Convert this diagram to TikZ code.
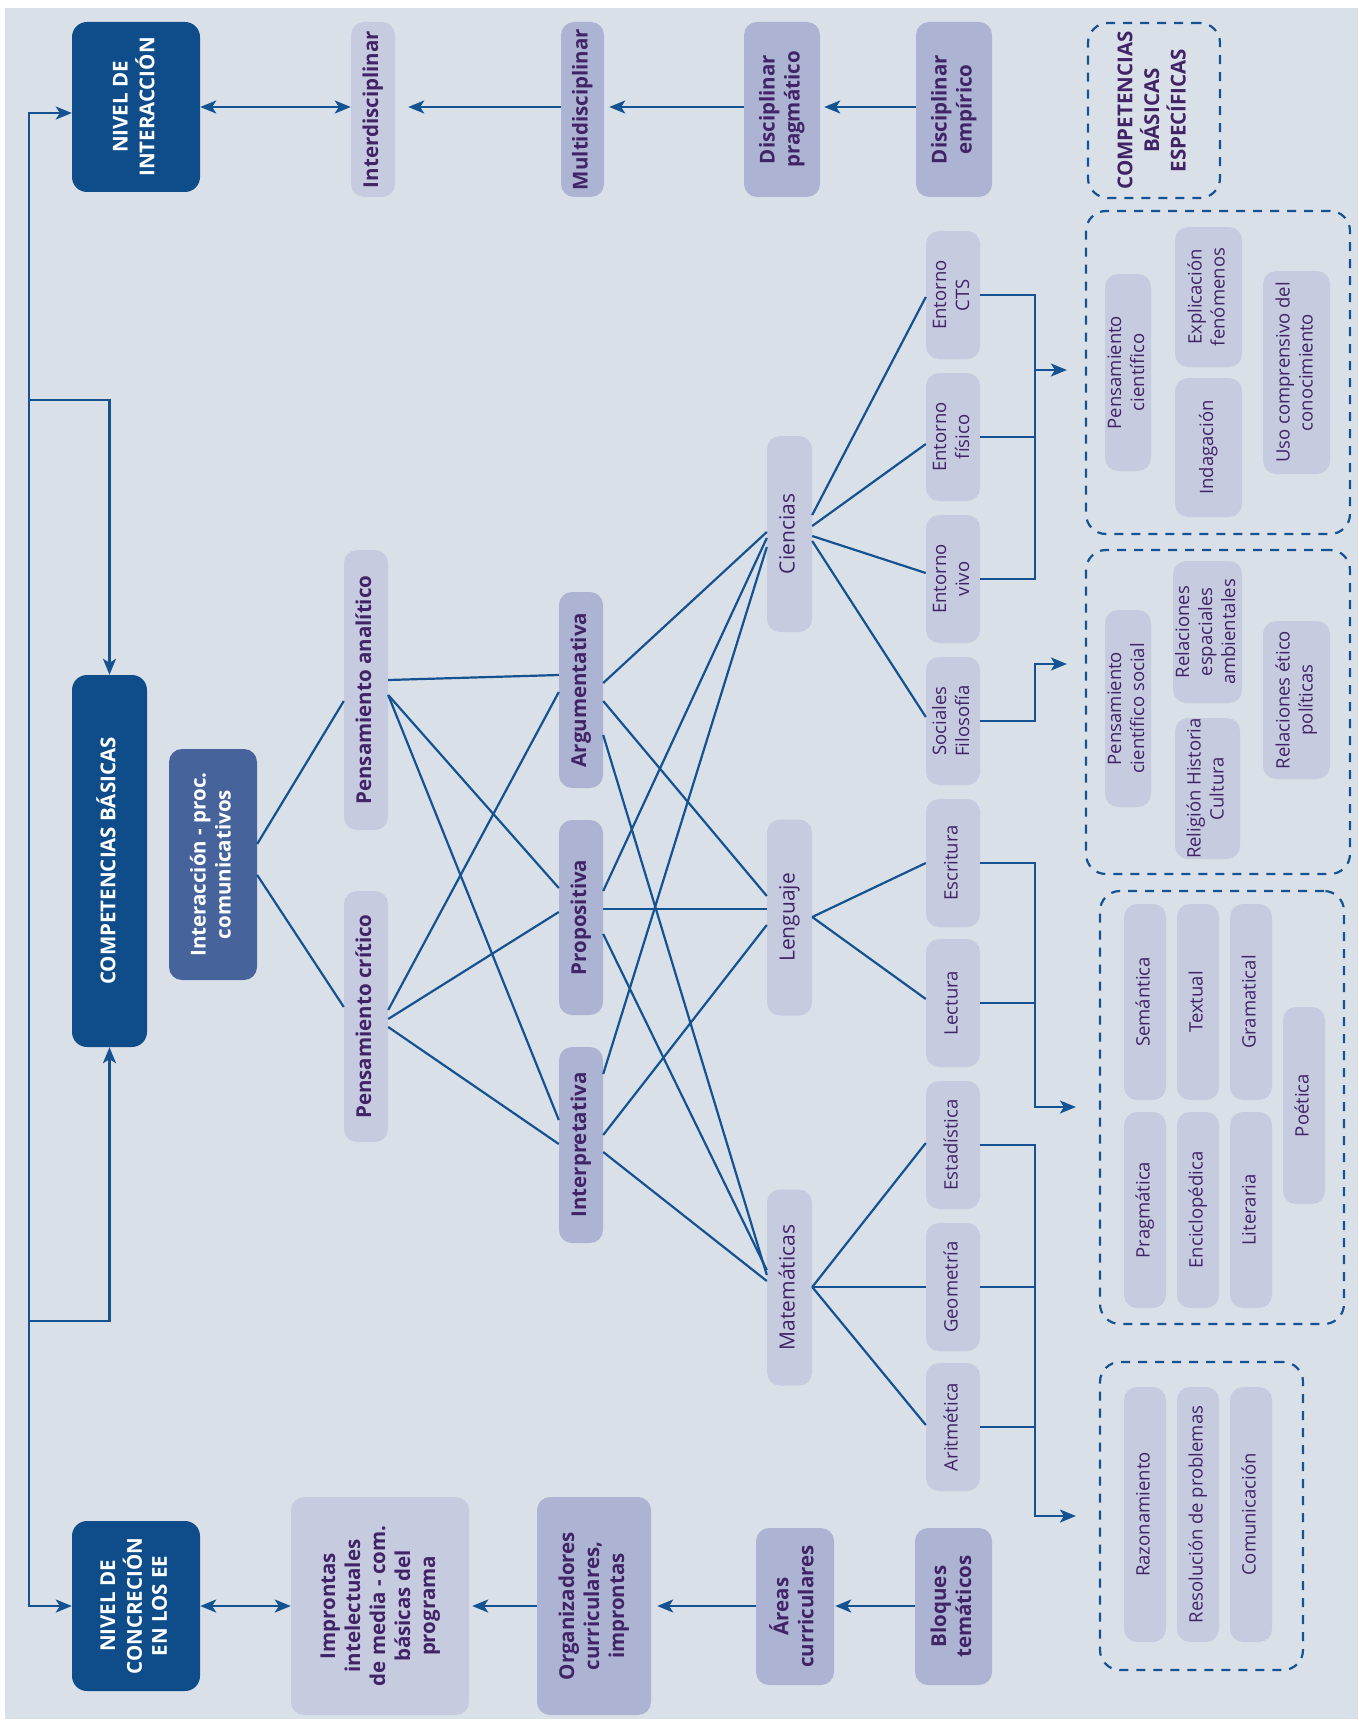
\documentclass[tikz,border=0pt]{standalone}
\usepackage{fontspec}
\setmainfont{Open Sans}
\usepackage{graphicx}
\usetikzlibrary{arrows.meta}

\definecolor{bgc}{RGB}{218,224,232}
\definecolor{navyc}{RGB}{14,76,138}
\definecolor{midc}{RGB}{71,99,155}
\definecolor{lightc}{RGB}{198,203,224}
\definecolor{darkc}{RGB}{173,180,211}
\definecolor{linec}{RGB}{20,82,145}
\definecolor{txtc}{RGB}{64,36,102}

% vertical (bottom-to-top) multi-line label
\newcommand\vt[1]{\rotatebox{90}{\begin{tabular}{@{}c@{}}#1\end{tabular}}}
\newcommand\fbig{\bfseries\fontsize{20.5}{25}\selectfont}
\newcommand\fmid{\fontsize{21}{25}\selectfont}
\newcommand\fsml{\fontsize{18.5}{23}\selectfont}
% straight link from the right side of #1 (at height #2) to the left side of #3 (at height #4)
\newcommand\lnk[4]{\draw[conn] (#1.east|-0,#2) -- (#3.west|-0,#4);}

\begin{document}
\begin{tikzpicture}[x=1pt,y=-1pt,
  box/.style={rounded corners=13pt, inner sep=0pt, text=txtc},
  lbox/.style={box, fill=lightc},
  dbox/.style={box, fill=darkc},
  nbox/.style={box, fill=navyc, text=white, rounded corners=15pt},
  dashedbox/.style={draw=linec, line width=2.2pt, dash pattern=on 9pt off 8pt,
    rounded corners=20pt, inner sep=0pt, text=txtc},
  conn/.style={draw=linec, line width=2.2pt},
  arr/.style={conn, -{Stealth[length=16pt,width=13pt,inset=4pt]}},
  darr/.style={conn, {Stealth[length=16pt,width=13pt,inset=4pt]}-{Stealth[length=16pt,width=13pt,inset=4pt]}},
  sz/.style 2 args={minimum width=#1pt, minimum height=#2pt}]

\useasboundingbox (0,0) rectangle (1358,1723);
\fill[white] (0,0) rectangle (1358,1723);
\fill[bgc] (5,8) rectangle (1358,1719);

% ---------- top row: levels of interaction ----------
\node[nbox, sz={128}{170}, font=\fbig] (nivint) at (136,107) {\vt{NIVEL DE\\INTERACCIÓN}};
\node[lbox, sz={44}{175}, font=\fbig] (inter) at (373,109.5) {\vt{Interdisciplinar}};
\node[dbox, sz={43}{175}, font=\fbig] (multi) at (582.5,109.5) {\vt{Multidisciplinar}};
\node[dbox, sz={76}{175}, font=\fbig] (dprag) at (782,109.5) {\vt{Disciplinar\\pragmático}};
\node[dbox, sz={76}{175}, font=\fbig] (demp) at (954,109.5) {\vt{Disciplinar\\empírico}};
\node[dashedbox, sz={132}{175}, font=\fbig] (cbe) at (1154,110.5) {\vt{COMPETENCIAS\\BÁSICAS\\ESPECÍFICAS}};

% ---------- bottom row: levels of concretion ----------
\node[nbox, sz={128}{170}, font=\fbig] (nivcon) at (136,1606) {\vt{NIVEL DE\\CONCRECIÓN\\EN LOS EE}};
\node[lbox, sz={178}{218}, font=\fbig] (impr) at (380,1606) {\vt{Improntas\\intelectuales\\de media - com.\\básicas del\\programa}};
\node[dbox, sz={114}{218}, font=\fbig] (org) at (594,1606) {\vt{Organizadores\\curriculares,\\improntas}};
\node[dbox, sz={78}{157}, font=\fbig] (areas) at (795,1606.5) {\vt{Áreas\\curriculares}};
\node[dbox, sz={77}{157}, font=\fbig] (bloq) at (953.5,1606.5) {\vt{Bloques\\temáticos}};

% ---------- central column ----------
\node[nbox, sz={75}{372}, font=\fbig] (comp) at (109.5,861) {\vt{COMPETENCIAS BÁSICAS}};
\node[box, fill=midc, text=white, sz={88}{231}, font=\fbig] (ip) at (213,864.5) {\vt{Interacción - proc.\\comunicativos}};
\node[lbox, sz={44}{280}, font=\fbig] (pana) at (366,690) {\vt{Pensamiento analítico}};
\node[lbox, sz={44}{251}, font=\fbig] (pcri) at (366,1016.5) {\vt{Pensamiento crítico}};
\node[dbox, sz={44}{196}, font=\fbig] (arg) at (581,690) {\vt{Argumentativa}};
\node[dbox, sz={44}{195}, font=\fbig] (pro) at (581,917.5) {\vt{Propositiva}};
\node[dbox, sz={44}{196}, font=\fbig] (int) at (581,1145) {\vt{Interpretativa}};
\node[lbox, sz={45}{196}, font=\fmid] (cie) at (789.5,534) {\vt{Ciencias}};
\node[lbox, sz={45}{196}, font=\fmid] (len) at (789.5,917.5) {\vt{Lenguaje}};
\node[lbox, sz={45}{196}, font=\fmid] (mat) at (789.5,1287.5) {\vt{Matemáticas}};

% ---------- areas ----------
\begin{scope}[every node/.style={lbox, sz={54}{128}, font=\fsml}]
\node (ects) at (953,295) {\vt{Entorno\\CTS}};
\node (efis) at (953,437) {\vt{Entorno\\físico}};
\node (eviv) at (953,579) {\vt{Entorno\\vivo}};
\node (socf) at (953,721) {\vt{Sociales\\Filosofía}};
\node (escr) at (953,863) {\vt{Escritura}};
\node (lect) at (953,1003) {\vt{Lectura}};
\node (esta) at (953,1145) {\vt{Estadística}};
\node (geom) at (953,1287) {\vt{Geometría}};
\node (arit) at (953,1427) {\vt{Aritmética}};
\end{scope}

% ---------- specific competences ----------
\node[dashedbox, sz={264}{323}] (dcie) at (1218,372.5) {};
\node[dashedbox, sz={264}{324}] (dsoc) at (1218,712) {};
\node[dashedbox, sz={244}{433}] (dlen) at (1222,1107.5) {};
\node[dashedbox, sz={203}{308}] (dmat) at (1201.5,1516) {};

\begin{scope}[every node/.style={lbox, font=\fsml}]
\node[sz={40}{197}] (pcie) at (1128,372.5) {\vt{Pensamiento\\científico}};
\node[sz={67}{140}] (expl) at (1208.5,297) {\vt{Explicación\\fenómenos}};
\node[sz={67}{139}] (inda) at (1208.5,447.5) {\vt{Indagación}};
\node[sz={67}{203}] (uso) at (1296.5,372.5) {\vt{Uso comprensivo del\\conocimiento}};

\node[sz={40}{197}] (pcs) at (1128,708.5) {\vt{Pensamiento\\científico social}};
\node[sz={65}{142}] (rea) at (1207.5,632) {\vt{Relaciones\\espaciales\\ambientales}};
\node[sz={65}{141}] (rhc) at (1207.5,788.5) {\vt{Religión Historia\\Cultura}};
\node[sz={67}{158}] (rep) at (1296.5,700) {\vt{Relaciones ético\\políticas}};

\node[sz={42}{196}] (sem) at (1145,1002) {\vt{Semántica}};
\node[sz={42}{196}] (pra) at (1145,1210) {\vt{Pragmática}};
\node[sz={42}{196}] (tex) at (1198,1002) {\vt{Textual}};
\node[sz={42}{196}] (enc) at (1198,1210) {\vt{Enciclopédica}};
\node[sz={42}{196}] (gra) at (1251,1002) {\vt{Gramatical}};
\node[sz={42}{196}] (lit) at (1251,1210) {\vt{Literaria}};
\node[sz={42}{197}] (poe) at (1304,1105.5) {\vt{Poética}};

\node[sz={42}{255}] (raz) at (1145,1514.5) {\vt{Razonamiento}};
\node[sz={42}{255}] (res) at (1198,1514.5) {\vt{Resolución de problemas}};
\node[sz={42}{255}] (com) at (1251,1514.5) {\vt{Comunicación}};
\end{scope}

% ---------- arrows of the top and bottom rows ----------
\draw[darr] (nivint.east) -- (inter.west|-nivint.east);
\draw[arr, shorten >=13pt] (multi.west|-0,107) -- (inter.east|-0,107);
\draw[arr, shorten >=5pt] (dprag.west|-0,107) -- (multi.east|-0,107);
\draw[arr, shorten >=4pt] (demp.west|-0,107) -- (dprag.east|-0,107);

\draw[darr] (nivcon.east) -- (impr.west);
\draw[arr, shorten >=3pt] (org.west) -- (impr.east);
\draw[arr, shorten >=6pt] (areas.west|-0,1606) -- (org.east|-0,1606);
\draw[arr, shorten >=1pt] (bloq.west|-0,1606) -- (areas.east|-0,1606);

% ---------- spine on the left ----------
\coordinate (s1) at (29,400);
\coordinate (s2) at (29,1321);
\draw[arr] (s1) |- (nivint.west|-0,113);
\draw[arr] (s1) -| (comp.north);
\draw[conn] (s1) -- (s2);
\draw[arr] (s2) -| (comp.south);
\draw[arr] (s2) |- (nivcon.west);

% ---------- network ----------
\lnk{ip}{844}{pana}{701}
\lnk{ip}{875}{pcri}{1007}

\lnk{pana}{680}{arg}{675}
\lnk{pana}{695}{pro}{888}
\lnk{pana}{695}{int}{1120}
\lnk{pcri}{1010}{arg}{692}
\lnk{pcri}{1019}{pro}{912}
\lnk{pcri}{1027}{int}{1144}

\lnk{arg}{683}{cie}{532}
\lnk{arg}{701}{len}{896}
\lnk{arg}{735}{mat}{1275}
\lnk{pro}{891}{cie}{538}
\lnk{pro}{909}{len}{909}
\lnk{pro}{934}{mat}{1270}
\lnk{int}{1074}{cie}{547}
\lnk{int}{1135}{len}{925}
\lnk{int}{1152}{mat}{1281}

\lnk{cie}{515}{ects}{297}
\lnk{cie}{526}{efis}{444}
\lnk{cie}{536}{eviv}{573}
\lnk{cie}{541}{socf}{717}
\lnk{len}{917}{escr}{863}
\lnk{len}{917}{lect}{999}
\lnk{mat}{1287}{esta}{1143}
\lnk{mat}{1287}{geom}{1287}
\lnk{mat}{1287}{arit}{1425}

% ---------- brackets towards the specific competences ----------
\coordinate (jc) at (1035,370);
\coordinate (js) at (1035,664);
\coordinate (jl) at (1035,1107);
\coordinate (jm) at (1035,1516);

\draw[conn] (ects.east) -| (jc) |- (eviv.east);
\draw[conn] (efis.east) -- (efis.east-|jc);
\draw[arr, shorten >=18pt] (jc) -- (dcie.west|-jc);

\draw[arr, shorten >=18pt] (socf.east) -| (js) -- (dsoc.west|-js);

\draw[arr, shorten >=23pt] (escr.east) -| (jl) -- (dlen.west|-jl);
\draw[conn] (lect.east) -- (lect.east-|jl);

\draw[arr, shorten >=23pt] (esta.east) -| (jm) -- (dmat.west|-jm);
\draw[conn] (geom.east) -- (geom.east-|jm);
\draw[conn] (arit.east) -- (arit.east-|jm);

\end{tikzpicture}
\end{document}
